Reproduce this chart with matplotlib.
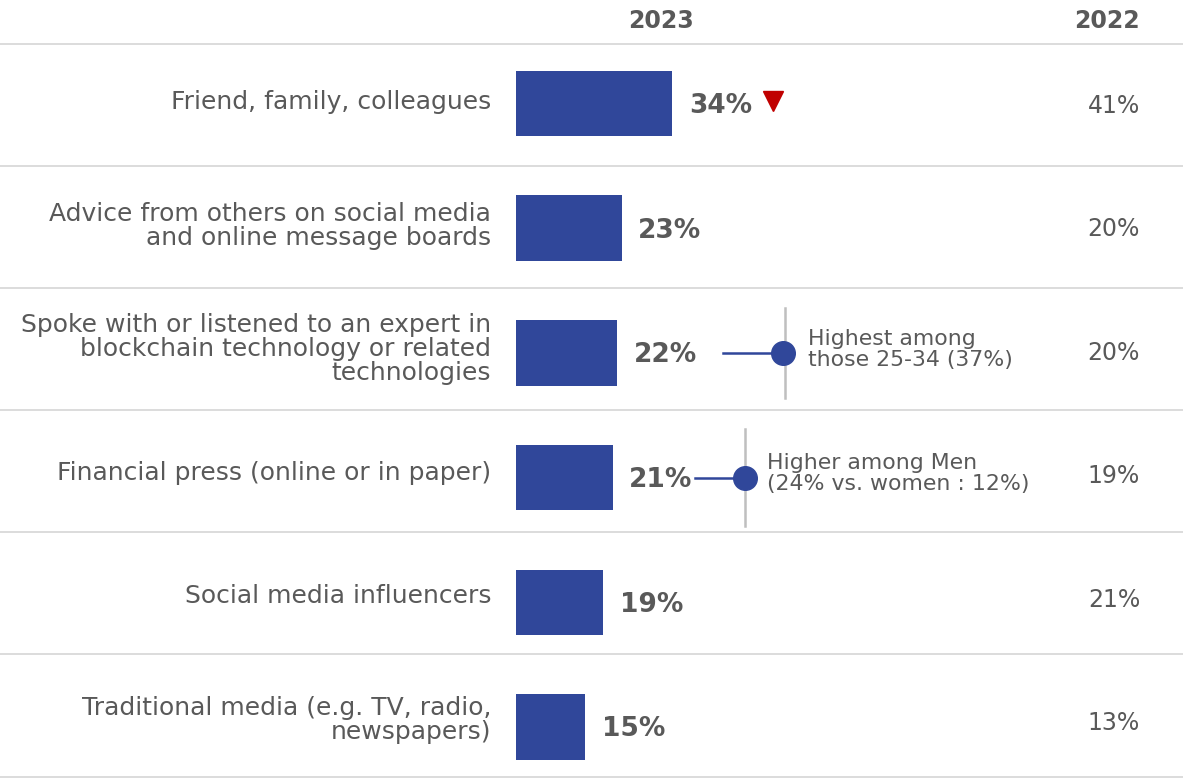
import matplotlib
matplotlib.use("Agg")
import matplotlib.pyplot as plt

# ── DATA ─────────────────────────────────────
categories = [
    "Friend, family, colleagues",
    "Advice from others on social media\nand online message boards",
    "Spoke with or listened to an expert in\nblockchain technology or related\ntechnologies",
    "Financial press (online or in paper)",
    "Social media influencers",
    "Traditional media (e.g. TV, radio,\nnewspapers)",
]
values_2023 = [34, 23, 22, 21, 19, 15]
values_2022 = [41, 20, 20, 19, 21, 13]
year_labels = ["2023", "2022"]
decline_rows = [0]
notes = {
    2: "Highest among\nthose 25-34 (37%)",
    3: "Higher among Men\n(24% vs. women : 12%)",
}

# ── STYLE ────────────────────────────────────
BAR_COLOR = "#30479A"
TEXT_COLOR = "#595959"
GRID_COLOR = "#D9D9D9"
RED = "#C00000"
PX_PER_PCT = 4.6
ROW_PX = 124.7
W, H = 1183, 778
TEXT_DRIFT = 0.99   # row labels sit on a slightly tighter pitch than the bars
SEP_PITCH = 0.979

plt.rcParams["font.family"] = ["DejaVu Sans"]

fig = plt.figure(figsize=(W / 100, H / 100), dpi=100)
ax = fig.add_axes([0, 0, 1, 1])
ax.set_xlim(-516 / PX_PER_PCT, (W - 516) / PX_PER_PCT)
ax.set_ylim((H - 103.5) / ROW_PX, -103.5 / ROW_PX)
ax.axis("off")

rows = range(len(categories))
ax.barh(list(rows), values_2023, height=0.525, color=BAR_COLOR)

x_col22 = (1140 - 516) / PX_PER_PCT
y_head = (21 - 103.5) / ROW_PX

# header
ax.text((661 - 516) / PX_PER_PCT, y_head, year_labels[0], ha="center", va="center",
        fontsize=17, fontweight="bold", color=TEXT_COLOR)
ax.text(x_col22, y_head, year_labels[1], ha="right", va="center",
        fontsize=17, fontweight="bold", color=TEXT_COLOR)

# separators
for k in range(len(categories) + 1):
    ax.axhline(k * SEP_PITCH - 0.477, color=GRID_COLOR, lw=1.3, zorder=0)

for i, (cat, v23, v22) in enumerate(zip(categories, values_2023, values_2022)):
    ty = i * TEXT_DRIFT
    ax.text(-5.4, ty - 0.01, cat, ha="right", va="center", fontsize=18,
            color=TEXT_COLOR, linespacing=1.0)
    ax.text(v23 + 3.6, i + 0.02, f"{v23}%", ha="left", va="center",
            fontsize=19, fontweight="bold", color=TEXT_COLOR)
    ax.text(x_col22, ty + 0.02, f"{v22}%", ha="right", va="center",
            fontsize=17, color=TEXT_COLOR)
    if i in decline_rows:
        ax.plot(v23 + 21.8, i - 0.02, marker="v", color=RED, markersize=14)

# callouts
callout_px = {2: (723, 783, 785, 808, 0.36), 3: (695, 745, 745, 767, 0.39)}
for i, text in notes.items():
    x0, xd, xv, xt = [(p - 516) / PX_PER_PCT for p in callout_px[i][:4]]
    half = callout_px[i][4]
    ax.plot([xv, xv], [i - half, i + half], color="#BFBFBF", lw=1.8, zorder=1)
    ax.plot([x0, xd], [i, i], color=BAR_COLOR, lw=1.8, zorder=2)
    ax.plot(xd, i, marker="o", color=BAR_COLOR, markersize=17, zorder=3)
    ax.text(xt, i - 0.03, text, ha="left", va="center", fontsize=15.8,
            color=TEXT_COLOR, linespacing=1.05)

fig.savefig("out.png", dpi=100)
